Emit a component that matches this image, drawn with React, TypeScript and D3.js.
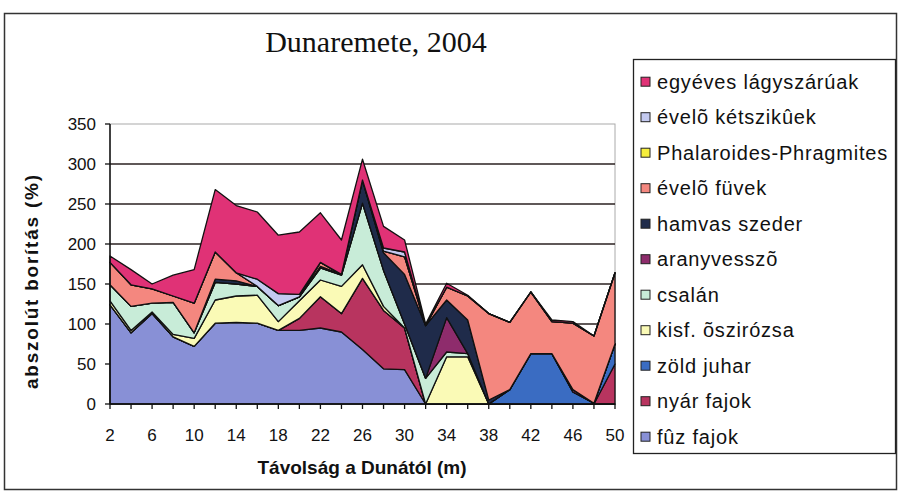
import React from "react";
import * as d3 from "d3";

const distances = [2, 4, 6, 8, 10, 12, 14, 16, 18, 20, 22, 24, 26, 28, 30, 32, 34, 36, 38, 40, 42, 44, 46, 48, 50];
const xTickLabels = [2, 6, 10, 14, 18, 22, 26, 30, 34, 38, 42, 46, 50];
const yTicks = [0, 50, 100, 150, 200, 250, 300, 350];

const fuzFajok = [124, 89, 113, 84, 72, 101, 102, 101, 92, 92, 95, 90, 68, 44, 43, 0, 0, 0, 0, 0, 0, 0, 0, 0, 0];
const nyarFajok = [0, 0, 0, 0, 0, 0, 0, 0, 0, 15, 39, 23, 89, 73, 52, 0, 0, 0, 0, 0, 0, 0, 0, 0, 50];
const zoldJuhar = [0, 0, 0, 0, 0, 0, 0, 0, 0, 0, 0, 0, 0, 0, 0, 0, 0, 0, 0, 18, 63, 63, 15, 1, 25];
const kisfOszirozsa = [5, 3, 2, 3, 10, 29, 33, 35, 11, 22, 21, 34, 17, 5, 0, 0, 59, 59, 0, 0, 0, 0, 0, 0, 0];
const csalan = [20, 30, 11, 40, 7, 22, 15, 11, 20, 5, 15, 14, 77, 45, 5, 32, 6, 4, 0, 0, 0, 0, 0, 0, 0];
const aranyvesszo = [0, 0, 0, 0, 0, 0, 0, 0, 0, 0, 0, 0, 0, 0, 0, 0, 43, 0, 0, 0, 0, 0, 3, 0, 0];
const hamvasSzeder = [0, 0, 0, 0, 0, 4, 4, 0, 0, 0, 2, 1, 29, 22, 62, 66, 22, 42, 5, 0, 0, 0, 0, 0, 0];
const eveloFuvek = [28, 27, 18, 8, 37, 34, 10, 0, 0, 0, 5, 0, 0, 2, 22, 0, 16, 30, 108, 84, 77, 40, 83, 84, 89];
const phalaroides = [0, 0, 0, 0, 0, 0, 0, 0, 0, 0, 0, 0, 0, 0, 0, 0, 0, 0, 0, 0, 0, 0, 0, 0, 0];
const eveloKetszikuek = [0, 0, 0, 0, 0, 0, 0, 9, 15, 3, 0, 0, 0, 4, 6, 0, 0, 0, 0, 0, 0, 0, 0, 0, 0];
const egyevesLagyszaruak = [8, 19, 6, 26, 42, 78, 84, 84, 73, 78, 62, 43, 26, 27, 15, 2, 5, 1, 0, 0, 0, 2, 2, 0, 0];

// bottom -> top stacking order
const seriesNames = [
  "fûz fajok",
  "nyár fajok",
  "zöld juhar",
  "kisf. õszirózsa",
  "csalán",
  "aranyvesszõ",
  "hamvas szeder",
  "évelõ füvek",
  "Phalaroides-Phragmites",
  "évelõ kétszikûek",
  "egyéves lágyszárúak",
];
const seriesValues = [
  fuzFajok,
  nyarFajok,
  zoldJuhar,
  kisfOszirozsa,
  csalan,
  aranyvesszo,
  hamvasSzeder,
  eveloFuvek,
  phalaroides,
  eveloKetszikuek,
  egyevesLagyszaruak,
];
const seriesColors = [
  "#8890d6",
  "#b8345f",
  "#3a6cc2",
  "#fafab6",
  "#c8ecd8",
  "#8e2c6c",
  "#1f2b4a",
  "#f4877f",
  "#f6ee3c",
  "#c4caf0",
  "#e03276",
];

export default function App() {
  const W = 898;
  const H = 495;
  const x = d3.scaleLinear().domain([2, 50]).range([110, 615]);
  const y = d3.scaleLinear().domain([0, 350]).range([404, 124]);

  const table = distances.map((d, i) => {
    const row: any = { d };
    seriesNames.forEach((n, k) => (row[n] = seriesValues[k][i]));
    return row;
  });
  const stacked = d3.stack<any>().keys(seriesNames)(table);
  const area = d3
    .area<any>()
    .x((p: any) => x(p.data.d))
    .y0((p: any) => y(p[0]))
    .y1((p: any) => y(p[1]));

  const sans = "'Liberation Sans', Arial, sans-serif";
  const legendOrder = [...seriesNames].reverse();
  const legendColors = [...seriesColors].reverse();

  return (
    <svg width={W} height={H} style={{ position: "absolute", left: 0, top: 0, background: "#fff" }}>
      <rect x={4.5} y={13.5} width={892} height={476} fill="#fff" stroke="#333" strokeWidth={1.5} />
      <text x={376} y={52} textAnchor="middle" fontFamily="'Liberation Serif', 'Times New Roman', serif" fontSize={30} fill="#111">
        Dunaremete, 2004
      </text>

      {/* plot area */}
      <rect x={110} y={124} width={505} height={280} fill="#fff" stroke="#aaa" strokeWidth={1} />
      {yTicks.filter((t) => t > 0 && t < 350).map((t) => (
        <line key={t} x1={110} x2={615} y1={y(t)} y2={y(t)} stroke="#2a2020" strokeWidth={1.4} />
      ))}

      {stacked.map((s, k) => (
        <path key={s.key} d={area(s) || ""} fill={seriesColors[k]} stroke="#111" strokeWidth={1.3} strokeLinejoin="round" />
      ))}

      {/* axes */}
      <line x1={110} x2={110} y1={124} y2={404} stroke="#111" strokeWidth={1.5} />
      <line x1={110} x2={615} y1={404} y2={404} stroke="#111" strokeWidth={1.5} />
      {yTicks.map((t) => (
        <g key={t}>
          <line x1={105} x2={110} y1={y(t)} y2={y(t)} stroke="#111" strokeWidth={1.3} />
          <text x={96} y={y(t) + 6} textAnchor="end" fontFamily={sans} fontSize={17} fill="#111">
            {t}
          </text>
        </g>
      ))}
      {distances.map((d) => (
        <line key={d} x1={x(d)} x2={x(d)} y1={404} y2={409} stroke="#111" strokeWidth={1.3} />
      ))}
      {xTickLabels.map((d) => (
        <text key={d} x={x(d)} y={441} textAnchor="middle" fontFamily={sans} fontSize={17} fill="#111">
          {d}
        </text>
      ))}

      <text x={362} y={474} textAnchor="middle" fontFamily={sans} fontWeight="bold" fontSize={19} fill="#111">
        Távolság a Dunától (m)
      </text>
      <text
        transform={`translate(38, 282) rotate(-90)`}
        textAnchor="middle"
        fontFamily={sans}
        fontWeight="bold"
        fontSize={19}
        fill="#111"
        textLength={214}
        lengthAdjust="spacing"
      >
        abszolút borítás (%)
      </text>

      {/* legend */}
      <rect x={633.5} y={59.5} width={262} height={394} fill="#fff" stroke="#222" strokeWidth={1.3} />
      {legendOrder.map((n, i) => {
        const cy = 81.7 + i * 35.5;
        return (
          <g key={n}>
            <rect x={641} y={cy - 4.5} width={9} height={9} fill={legendColors[i]} stroke="#222" strokeWidth={1} />
            <text x={657} y={cy + 7} fontFamily={sans} fontSize={20} letterSpacing={0.8} fill="#111">
              {n}
            </text>
          </g>
        );
      })}
    </svg>
  );
}
